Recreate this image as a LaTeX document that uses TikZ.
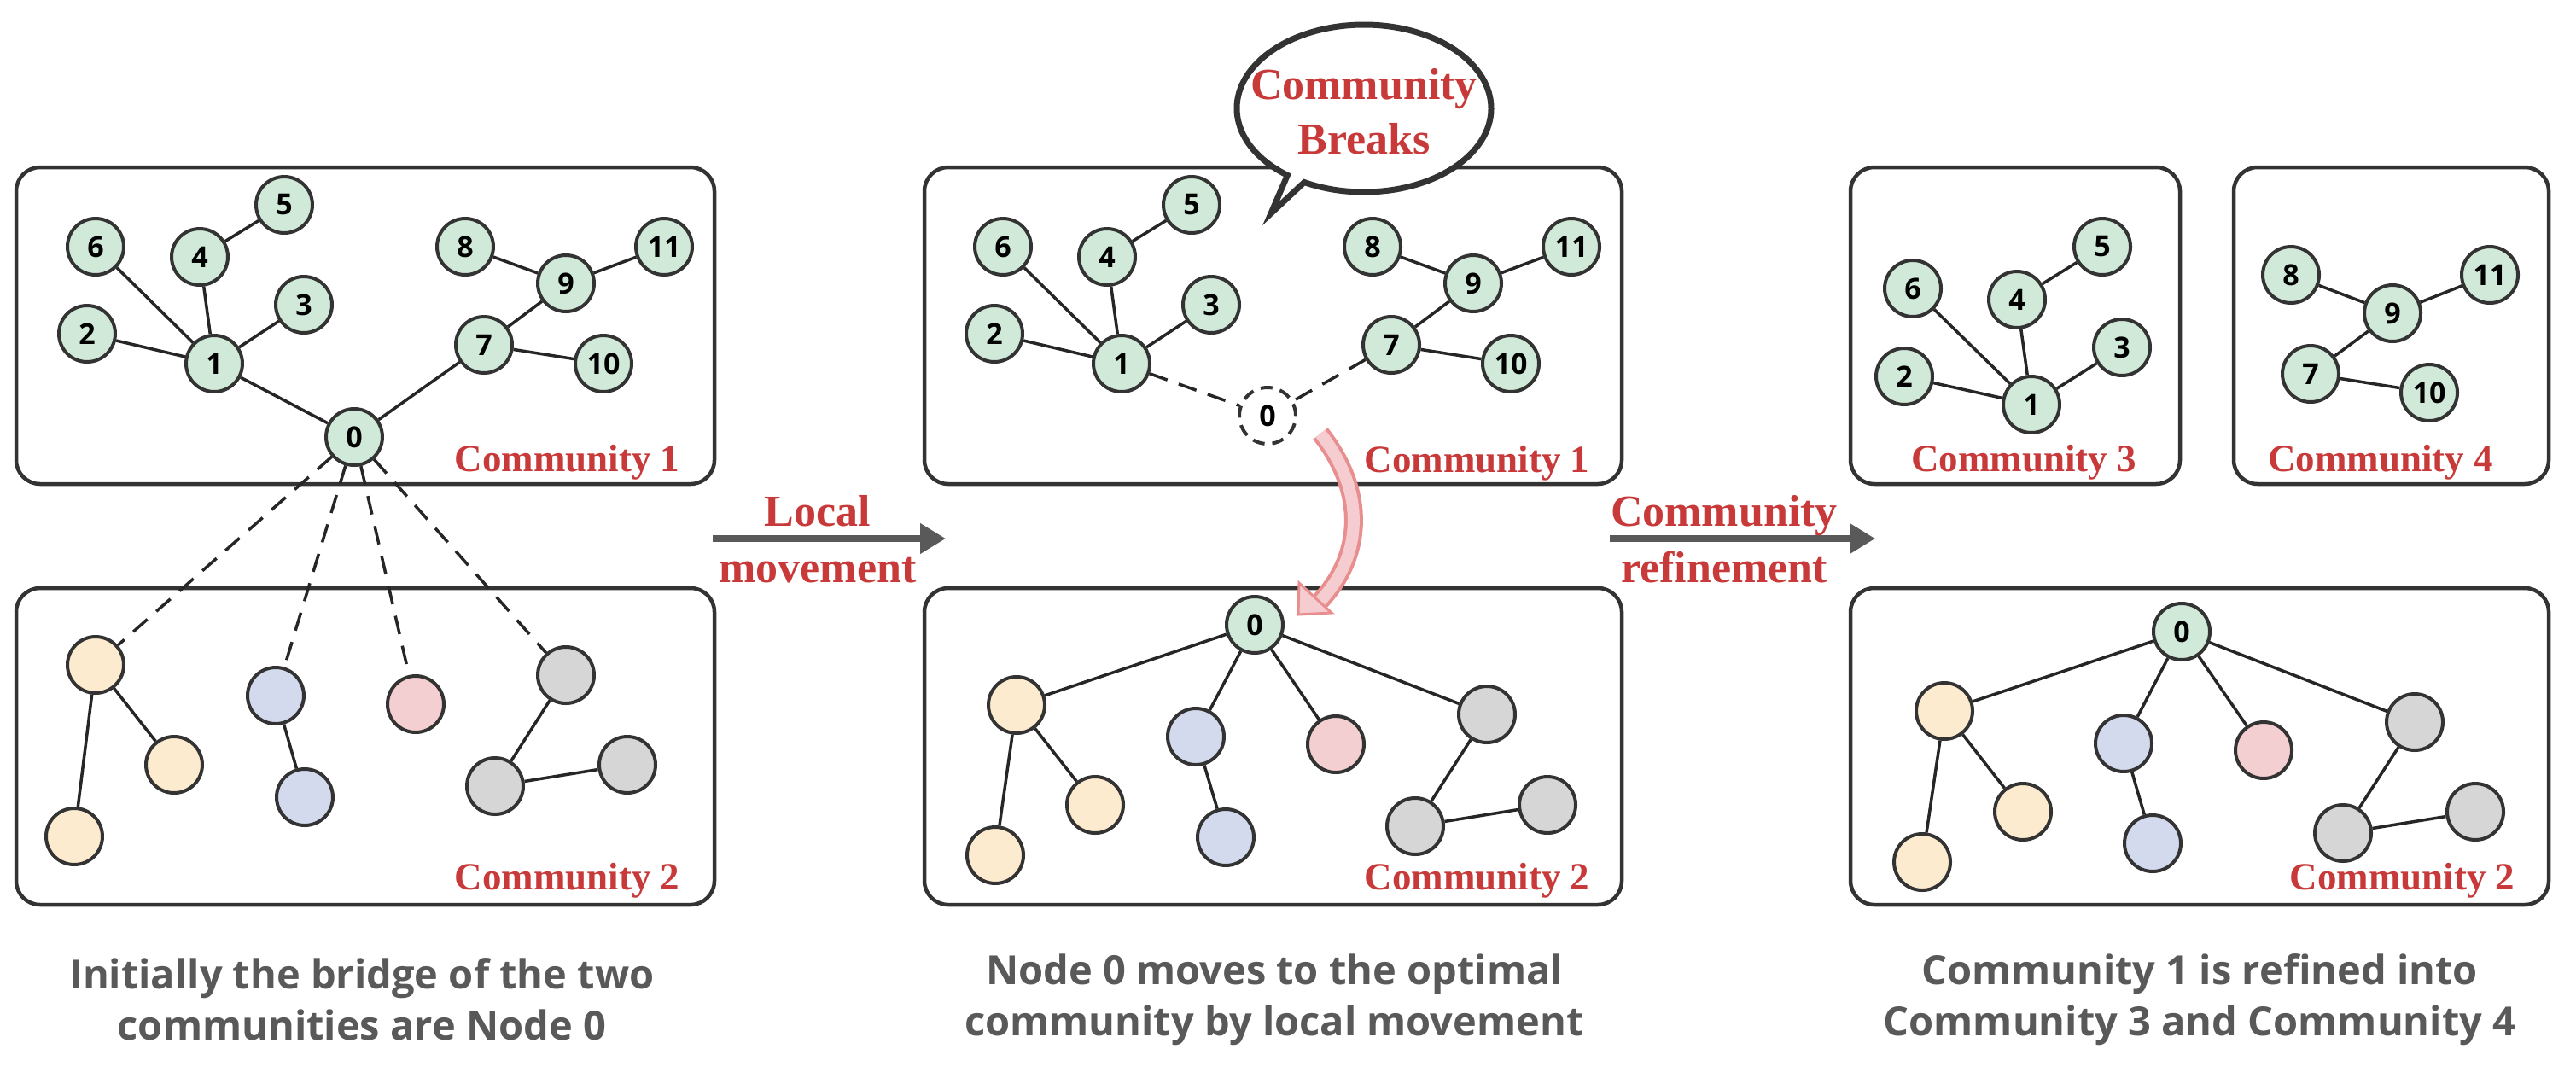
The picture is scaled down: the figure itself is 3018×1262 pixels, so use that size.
\documentclass[tikz,border=0pt]{standalone}
\usepackage{fontspec}
\setmainfont{Liberation Serif}
\newfontfamily\nfont{Open Sans}
\usetikzlibrary{arrows.meta}
\definecolor{gfill}{HTML}{D0E9D8}
\definecolor{ofill}{HTML}{FDEBD0}
\definecolor{bfill}{HTML}{D3DAEE}
\definecolor{pfill}{HTML}{F4CFD2}
\definecolor{yfill}{HTML}{D6D6D6}
\definecolor{bord}{HTML}{333333}
\definecolor{redt}{HTML}{C83A3A}
\definecolor{grayt}{HTML}{595959}
\definecolor{pinkb}{HTML}{E88E8E}
\definecolor{pinkf}{HTML}{F5CDD0}
\tikzset{
 nd/.style={circle,draw=bord,line width=4pt,minimum size=66pt,inner sep=0pt,font=\nfont\bfseries\fontsize{34}{36}\selectfont},
 ng/.style={nd,fill=gfill}, no/.style={nd,fill=ofill}, nb/.style={nd,fill=bfill},
 np/.style={nd,fill=pfill}, ny/.style={nd,fill=yfill},
 cbox/.style={draw=bord,line width=4.5pt,rounded corners=28pt},
 ed/.style={line width=3.5pt,draw=black!85},
 dd/.style={ed,dash pattern=on 22pt off 14pt},
 clab/.style={text=redt,font=\bfseries\fontsize{45}{50}\selectfont,anchor=east},
 capt/.style={text=grayt,align=center,font=\nfont\bfseries\fontsize{47}{60}\selectfont},
 stp/.style={text=redt,align=center,font=\bfseries\fontsize{52}{66}\selectfont},
 bigar/.style={line width=8pt,draw=grayt,-{Triangle[length=30pt,width=34pt]}}
}
\begin{document}
\begin{tikzpicture}[x=1pt,y=-1pt]
\useasboundingbox (0,0) rectangle (3018,1262);
% boxes
\draw[cbox] (19,196) rectangle (837,567);
\draw[cbox] (19,689) rectangle (837,1060);
\draw[cbox] (1083,196) rectangle (1900,567);
\draw[cbox] (1083,689) rectangle (1900,1060);
\draw[cbox] (2168,196) rectangle (2554,567);
\draw[cbox] (2617,196) rectangle (2986,567);
\draw[cbox] (2168,689) rectangle (2986,1060);
% panel 1 top
\node[ng] (a0) at (415,512) {0};
\node[ng] (a1) at (251,426) {1};
\node[ng] (a2) at (102,391) {2};
\node[ng] (a3) at (356,357) {3};
\node[ng] (a4) at (234,301) {4};
\node[ng] (a5) at (333,240) {5};
\node[ng] (a6) at (112,289) {6};
\node[ng] (a7) at (567,404) {7};
\node[ng] (a8) at (545,289) {8};
\node[ng] (a9) at (663,332) {9};
\node[ng] (a10) at (707,426) {10};
\node[ng] (a11) at (778,289) {11};
\foreach \u/\v in {0/1,0/7,1/2,1/6,1/4,1/3,4/5,7/9,9/8,9/11,7/10} \draw[ed] (a\u)--(a\v);
\node[clab] at (800,542) {Community 1};
% panel 1 bottom
\node[no] (ao1) at (112,779) {};
\node[no] (ao2) at (204,896) {};
\node[no] (ao3) at (87,980) {};
\node[nb] (ab1) at (323,815) {};
\node[nb] (ab2) at (357,934) {};
\node[np] (ap) at (487,825) {};
\node[ny] (ay1) at (663,791) {};
\node[ny] (ay2) at (580,921) {};
\node[ny] (ay3) at (735,896) {};
\draw[ed] (ao1)--(ao2) (ao1)--(ao3) (ab1)--(ab2) (ay1)--(ay2) (ay2)--(ay3);
\draw[dd] (a0)--(ao1) (a0)--(ab1) (a0)--(ap) (a0)--(ay1);
\node[clab] at (800,1032) {Community 2};
% panel 2 top
\begin{scope}[xshift=1063pt]
\node[ng] (b1) at (251,426) {1};
\node[ng] (b2) at (102,391) {2};
\node[ng] (b3) at (356,357) {3};
\node[ng] (b4) at (234,301) {4};
\node[ng] (b5) at (333,240) {5};
\node[ng] (b6) at (112,289) {6};
\node[ng] (b7) at (567,404) {7};
\node[ng] (b8) at (545,289) {8};
\node[ng] (b9) at (663,332) {9};
\node[ng] (b10) at (707,426) {10};
\node[ng] (b11) at (778,289) {11};
\end{scope}
\node[nd,fill=white,dash pattern=on 14pt off 9pt] (b0) at (1485,487) {0};
\foreach \u/\v in {1/2,1/6,1/4,1/3,4/5,7/9,9/8,9/11,7/10} \draw[ed] (b\u)--(b\v);
\draw[dd] (b1)--(b0) (b7)--(b0);
\node[clab] at (1866,543) {Community 1};
% speech bubble
\draw[bord,line width=7pt,fill=white] ({1598+149*cos(127)},{127+98*sin(127)}) arc[start angle=127,end angle=478,x radius=149,y radius=98] -- (1489,250) -- cycle;
\node[text=redt,align=center,font=\bfseries\fontsize{52}{64}\selectfont] (bub) at (1598,131) {Community\\Breaks};
% pink arrow
\draw[pinkb,line width=22pt] (1547,508) .. controls (1600,575) and (1598,650) .. (1546,705);
\draw[pinkf,line width=14pt] (1547,508) .. controls (1600,575) and (1598,650) .. (1546,705);
\filldraw[fill=pinkf,draw=pinkb,line width=3pt,line join=miter] (1521,720) -- (1522,683) -- (1560,718) -- cycle;
% panel 2 bottom
\node[ng] (c0) at (1470,732) {0};
\node[no] (co1) at (1191,826) {};
\node[no] (co2) at (1283,943) {};
\node[no] (co3) at (1166,1002) {};
\node[nb] (cb1) at (1401,863) {};
\node[nb] (cb2) at (1436,981) {};
\node[np] (cp) at (1565,872) {};
\node[ny] (cy1) at (1742,837) {};
\node[ny] (cy2) at (1658,968) {};
\node[ny] (cy3) at (1813,943) {};
\draw[ed] (co1)--(co2) (co1)--(co3) (cb1)--(cb2) (cy1)--(cy2) (cy2)--(cy3)
 (c0)--(co1) (c0)--(cb1) (c0)--(cp) (c0)--(cy1);
\node[clab] at (1866,1032) {Community 2};
% panel 3 community 3
\node[ng] (d1) at (2380,474) {1};
\node[ng] (d2) at (2231,441) {2};
\node[ng] (d3) at (2486,407) {3};
\node[ng] (d4) at (2363,351) {4};
\node[ng] (d5) at (2463,289) {5};
\node[ng] (d6) at (2241,338) {6};
\draw[ed] (d1)--(d2) (d1)--(d6) (d1)--(d4) (d1)--(d3) (d4)--(d5);
\node[clab,anchor=center] at (2371,542) {Community 3};
% community 4
\node[ng] (d7) at (2707,438) {7};
\node[ng] (d8) at (2684,322) {8};
\node[ng] (d9) at (2803,367) {9};
\node[ng] (d10) at (2846,460) {10};
\node[ng] (d11) at (2917,322) {11};
\draw[ed] (d7)--(d9) (d9)--(d8) (d9)--(d11) (d7)--(d10);
\node[clab,anchor=center] at (2789,542) {Community 4};
% panel 3 bottom
\node[ng] (e0) at (2556,740) {0};
\node[no] (eo1) at (2278,833) {};
\node[no] (eo2) at (2370,951) {};
\node[no] (eo3) at (2252,1010) {};
\node[nb] (eb1) at (2488,871) {};
\node[nb] (eb2) at (2522,988) {};
\node[np] (ep) at (2652,879) {};
\node[ny] (ey1) at (2829,846) {};
\node[ny] (ey2) at (2745,976) {};
\node[ny] (ey3) at (2900,951) {};
\draw[ed] (eo1)--(eo2) (eo1)--(eo3) (eb1)--(eb2) (ey1)--(ey2) (ey2)--(ey3)
 (e0)--(eo1) (e0)--(eb1) (e0)--(ep) (e0)--(ey1);
\node[clab] at (2950,1032) {Community 2};
% step arrows
\coordinate (s1) at (835,631); \coordinate (t1) at (1108,631);
\draw[bigar] (s1) -- (t1);
\node[stp] at (958,632) {Local\\movement};
\coordinate (s2) at (1886,631); \coordinate (t2) at (2197,631);
\draw[bigar] (s2) -- (t2);
\node[stp] at (2020,632) {Community\\refinement};
% captions
\node[capt] at (424,1171) {Initially the bridge of the two\\communities are Node 0};
\node[capt] at (1493,1171) {Node 0 moves to the optimal\\community by local movement};
\node[capt] at (2577,1171) {Community 1 is refined into\\Community 3 and Community 4};
\end{tikzpicture}
\end{document}
